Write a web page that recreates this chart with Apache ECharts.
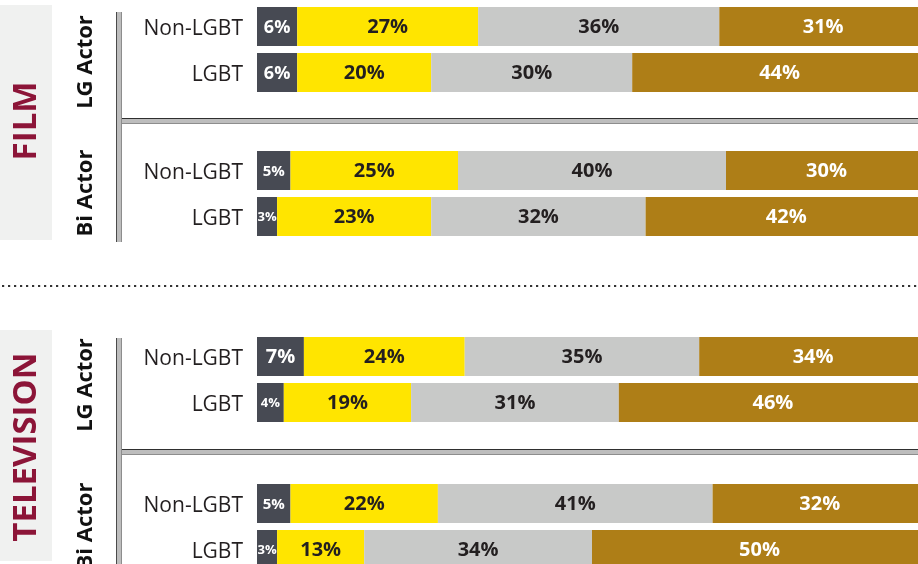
<!DOCTYPE html>
<html>
<head>
<meta charset="utf-8">
<style>
  html, body { margin: 0; padding: 0; background: #ffffff; }
  #chart { width: 918px; height: 564px; }
</style>
<script src="https://cdn.jsdelivr.net/npm/echarts@6/dist/echarts.min.js"></script>
</head>
<body>
<div id="chart"></div>
<script>
// ---- Data ----
const categories = ['Non-LGBT', 'LGBT'];
const segmentNames = ['Segment 1', 'Segment 2', 'Segment 3', 'Segment 4'];

const filmLgNonLgbt = [6, 27, 36, 31];
const filmLgLgbt    = [6, 20, 30, 44];
const filmBiNonLgbt = [5, 25, 40, 30];
const filmBiLgbt    = [3, 23, 32, 42];
const tvLgNonLgbt   = [7, 24, 35, 34];
const tvLgLgbt      = [4, 19, 31, 46];
const tvBiNonLgbt   = [5, 22, 41, 32];
const tvBiLgbt      = [3, 13, 34, 50];

const sectionLabels = ['FILM', 'TELEVISION'];
const groupLabels = ['LG Actor', 'Bi Actor', 'LG Actor', 'Bi Actor'];

// ---- Styling ----
const segColors = ['#474a53', '#ffe500', '#c8c9c8', '#ae7e17'];
const labelColors = ['#ffffff', '#231f20', '#231f20', '#ffffff'];
const groups = [
  [filmLgNonLgbt, filmLgLgbt],
  [filmBiNonLgbt, filmBiLgbt],
  [tvLgNonLgbt, tvLgLgbt],
  [tvBiNonLgbt, tvBiLgbt]
];
const gridTops = [3.5, 147.5, 333.5, 480.5];

function labelSize(v) {
  if (v <= 4) return 13;
  if (v <= 5) return 15;
  if (v <= 6) return 18;
  return 20;
}

const grids = [], xAxes = [], yAxes = [], series = [];
groups.forEach((rows, gi) => {
  grids.push({ left: 257, top: gridTops[gi], width: 670, height: 92, containLabel: false, outerBoundsMode: 'none' });
  xAxes.push({ type: 'value', gridIndex: gi, min: 0, max: 100, show: false });
  yAxes.push({
    type: 'category', gridIndex: gi, data: categories, inverse: true,
    axisLine: { show: false }, axisTick: { show: false }, splitLine: { show: false },
    axisLabel: {
      margin: 14, formatter: v => '{t|' + v + '}',
      rich: { t: { fontSize: 21, lineHeight: 24, color: '#231f20', fontFamily: '"Open Sans", sans-serif',
        fontWeight: 'normal', padding: [6, 0, 0, 0] } }
    }
  });
  segmentNames.forEach((name, si) => {
    series.push({
      type: 'bar', name: name, stack: 'g' + gi, xAxisIndex: gi, yAxisIndex: gi,
      barWidth: 39,
      itemStyle: { color: segColors[si] },
      label: {
        show: true, position: 'inside', color: labelColors[si], offset: [0, 1],
        fontFamily: '"Open Sans", sans-serif', fontWeight: 'bold',
        formatter: p => p.value + '%'
      },
      data: rows.map(r => ({ value: r[si], label: { fontSize: labelSize(r[si]) } })),
      animation: false
    });
  });
});

function tubeV(x, y1, y2) {
  return [
    { type: 'rect', shape: { x: x, y: y1, width: 6, height: y2 - y1 }, style: { fill: '#8d8d8d' }, silent: true },
    { type: 'rect', shape: { x: x + 1, y: y1, width: 4, height: y2 - y1 }, style: { fill: '#bdbdbd' }, silent: true },
    { type: 'rect', shape: { x: x, y: y1, width: 1, height: y2 - y1 }, style: { fill: '#4a4a4a' }, silent: true }
  ];
}
function tubeH(y, x1, x2) {
  return [
    { type: 'rect', shape: { x: x1, y: y, width: x2 - x1, height: 6 }, style: { fill: '#8d8d8d' }, silent: true },
    { type: 'rect', shape: { x: x1, y: y + 1, width: x2 - x1, height: 4 }, style: { fill: '#bdbdbd' }, silent: true },
    { type: 'rect', shape: { x: x1, y: y, width: x2 - x1, height: 1 }, style: { fill: '#2f2f2f' }, silent: true }
  ];
}
function vText(text, x, y, font, color) {
  return {
    type: 'text', x: x, y: y, rotation: Math.PI / 2, silent: true,
    style: { text: text, font: font, fill: color, textAlign: 'center', textVerticalAlign: 'middle' }
  };
}

const graphics = [
  { type: 'rect', shape: { x: 0, y: 5, width: 52, height: 235 }, style: { fill: '#f0f1f0' }, silent: true },
  { type: 'rect', shape: { x: 0, y: 330, width: 52, height: 231 }, style: { fill: '#f0f1f0' }, silent: true },
  vText(sectionLabels[0], 27, 121, 'bold 33px "Open Sans", sans-serif', '#8c1538'),
  vText(sectionLabels[1], 27, 447, 'bold 33px "Open Sans", sans-serif', '#8c1538'),
  vText(groupLabels[0], 86, 62, 'bold 22px "Open Sans", sans-serif', '#111111'),
  vText(groupLabels[1], 86, 193, 'bold 22px "Open Sans", sans-serif', '#111111'),
  vText(groupLabels[2], 86, 385, 'bold 22px "Open Sans", sans-serif', '#111111'),
  vText(groupLabels[3], 86, 526, 'bold 22px "Open Sans", sans-serif', '#111111'),
  ...tubeH(118, 117, 918),
  ...tubeH(449, 117, 918),
  ...tubeV(116, 12, 242),
  ...tubeV(116, 338, 564),
  { type: 'line', shape: { x1: 2, y1: 286, x2: 918, y2: 286 }, silent: true,
    style: { stroke: '#333333', lineWidth: 2.2, lineDash: [2.2, 3.8] } }
];

const chart = echarts.init(document.getElementById('chart'), null, { renderer: 'canvas' });
chart.setOption({
  animation: false,
  backgroundColor: '#ffffff',
  grid: grids,
  xAxis: xAxes,
  yAxis: yAxes,
  series: series,
  graphic: graphics
});
</script>
</body>
</html>
